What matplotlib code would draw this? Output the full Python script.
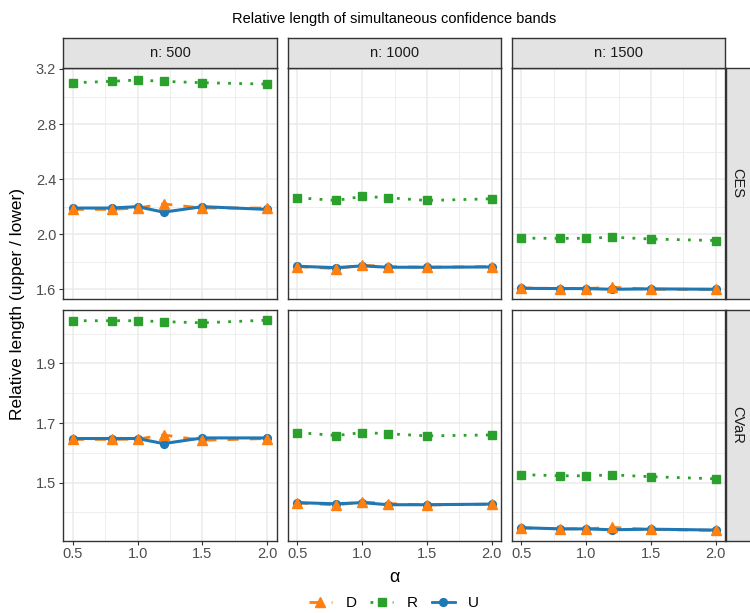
import matplotlib
matplotlib.use("Agg")
import matplotlib.pyplot as plt
from matplotlib.lines import Line2D

plt.rcParams['font.family'] = ['Liberation Sans', 'DejaVu Sans']

# data
alpha = [0.5, 0.8, 1.0, 1.2, 1.5, 2.0]
sizes = [500, 1000, 1500]
measures = ['CES', 'CVaR']

ces_500_D = [2.18, 2.18, 2.19, 2.22, 2.19, 2.19]
ces_500_R = [3.10, 3.11, 3.12, 3.11, 3.10, 3.09]
ces_500_U = [2.19, 2.19, 2.20, 2.16, 2.20, 2.18]
ces_1000_D = [1.765, 1.750, 1.775, 1.765, 1.760, 1.765]
ces_1000_R = [2.265, 2.245, 2.274, 2.265, 2.245, 2.257]
ces_1000_U = [1.767, 1.757, 1.770, 1.760, 1.760, 1.762]
ces_1500_D = [1.610, 1.605, 1.605, 1.615, 1.600, 1.600]
ces_1500_R = [1.971, 1.970, 1.970, 1.978, 1.965, 1.954]
ces_1500_U = [1.607, 1.605, 1.605, 1.600, 1.603, 1.600]

cvar_500_D = [1.645, 1.645, 1.646, 1.660, 1.642, 1.648]
cvar_500_R = [2.043, 2.043, 2.043, 2.040, 2.036, 2.045]
cvar_500_U = [1.648, 1.648, 1.648, 1.631, 1.650, 1.650]
cvar_1000_D = [1.432, 1.425, 1.435, 1.430, 1.425, 1.428]
cvar_1000_R = [1.668, 1.658, 1.668, 1.664, 1.657, 1.660]
cvar_1000_U = [1.433, 1.429, 1.433, 1.426, 1.426, 1.428]
cvar_1500_D = [1.348, 1.345, 1.345, 1.350, 1.343, 1.340]
cvar_1500_R = [1.527, 1.523, 1.523, 1.526, 1.520, 1.513]
cvar_1500_U = [1.349, 1.345, 1.345, 1.342, 1.344, 1.341]

data = {
    ('CES', 500): (ces_500_D, ces_500_R, ces_500_U),
    ('CES', 1000): (ces_1000_D, ces_1000_R, ces_1000_U),
    ('CES', 1500): (ces_1500_D, ces_1500_R, ces_1500_U),
    ('CVaR', 500): (cvar_500_D, cvar_500_R, cvar_500_U),
    ('CVaR', 1000): (cvar_1000_D, cvar_1000_R, cvar_1000_U),
    ('CVaR', 1500): (cvar_1500_D, cvar_1500_R, cvar_1500_U),
}

methods = ['D', 'R', 'U']
colors = {'D': '#ff7f0e', 'R': '#2ca02c', 'U': '#1f77b4'}
markers = {'D': '^', 'R': 's', 'U': 'o'}
msizes = {'D': 7.6, 'R': 6.0, 'U': 5.6}
dashes = {'D': (4, 4), 'R': (1, 3), 'U': None}

W, H = 750, 613
fig = plt.figure(figsize=(W / 100, H / 100), dpi=100)


def box(x0, y0, x1, y1):
    return [x0 / W, 1 - y1 / H, (x1 - x0) / W, (y1 - y0) / H]


col_x = [(63, 277), (287.7, 501.3), (511.7, 725.3)]
row_y = [(68, 298.5), (310, 540.5)]
ylims = [(1.533, 3.207), (1.306, 2.079)]
yticks = [[1.6, 2.0, 2.4, 2.8, 3.2], [1.5, 1.7, 1.9]]
yminor = [[1.8, 2.2, 2.6, 3.0], [1.4, 1.6, 1.8, 2.0]]
border = '#333333'
strip_fill = '#e3e3e3'

for r, meas in enumerate(measures):
    for c, n in enumerate(sizes):
        x0, x1 = col_x[c]
        y0, y1 = row_y[r]
        ax = fig.add_axes(box(x0, y0, x1, y1))
        vals = dict(zip(methods, data[(meas, n)]))
        for m in methods:
            ln, = ax.plot(alpha, vals[m], color=colors[m], lw=2.0 if m != 'U' else 2.2,
                          zorder=3, solid_capstyle='butt')
            if dashes[m]:
                ln.set_dashes(dashes[m])
        for m in ['U', 'R', 'D']:
            ax.plot(alpha, vals[m], ls='none', marker=markers[m], ms=msizes[m],
                    color=colors[m], mec=colors[m], zorder=4)
        ax.set_xlim(0.425, 2.075)
        ax.set_ylim(*ylims[r])
        ax.set_xticks([0.5, 1.0, 1.5, 2.0])
        ax.set_xticks([0.75, 1.25, 1.75], minor=True)
        ax.set_yticks(yticks[r])
        ax.set_yticks(yminor[r], minor=True)
        ax.grid(which='major', color='#ebebeb', lw=1.1, zorder=0)
        ax.grid(which='minor', color='#ebebeb', lw=0.6, zorder=0)
        ax.set_axisbelow(True)
        for s in ax.spines.values():
            s.set_color(border)
            s.set_linewidth(1.0)
        ax.tick_params(which='minor', length=0)
        ax.tick_params(which='major', length=2.7, width=0.8, color=border,
                       labelcolor='#4d4d4d', labelsize=10.5, pad=2.2)
        if c > 0:
            ax.tick_params(axis='y', which='major', left=False, labelleft=False)
        else:
            ax.set_yticklabels([f'{v:.1f}' for v in yticks[r]])
        if r == 0:
            ax.tick_params(axis='x', which='major', bottom=False, labelbottom=False)
        else:
            ax.set_xticklabels([f'{v:.1f}' for v in [0.5, 1.0, 1.5, 2.0]])

        # top strips
        if r == 0:
            sax = fig.add_axes(box(x0, 37.5, x1, 68))
            sax.set_facecolor(strip_fill)
            sax.set_xticks([])
            sax.set_yticks([])
            for s in sax.spines.values():
                s.set_color(border)
                s.set_linewidth(1.0)
            sax.text(0.5, 0.5, f'n: {n}', ha='center', va='center', fontsize=10.5,
                     color='#1a1a1a', transform=sax.transAxes)
        # right strips
        if c == 2:
            sax = fig.add_axes(box(726, y0, 752, y1))
            sax.set_facecolor(strip_fill)
            sax.set_xticks([])
            sax.set_yticks([])
            for s in sax.spines.values():
                s.set_color(border)
                s.set_linewidth(1.0)
            sax.text(0.45, 0.5, meas, ha='center', va='center', fontsize=10.5,
                     color='#1a1a1a', rotation=270, transform=sax.transAxes)

fig.text(394 / W, 1 - 19 / H, 'Relative length of simultaneous confidence bands',
         ha='center', va='center', fontsize=10.5, color='black')
fig.text(394 / W, 1 - 578 / H, 'α', ha='center', va='center', fontsize=13)
fig.text(18 / W, 1 - 304 / H, 'Relative length (upper / lower)', ha='center',
         va='center', rotation=90, fontsize=12.5)

handles = []
for m in methods:
    h = Line2D([], [], color=colors[m], lw=2.0, marker=markers[m], ms=msizes[m],
               mec=colors[m])
    if dashes[m]:
        h.set_dashes(dashes[m])
    handles.append(h)
fig.legend(handles, methods, loc='center', bbox_to_anchor=(394 / W, 1 - 603 / H),
           ncol=3, frameon=False, fontsize=11, handlelength=1.5, handletextpad=0.9,
           columnspacing=0.9, numpoints=1)

fig.savefig('out.png', dpi=100)
